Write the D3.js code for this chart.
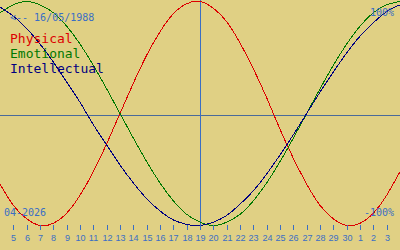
<!DOCTYPE html>
<html>
<head>
<meta charset="utf-8">
<title>Biorhythm</title>
<script src="https://d3js.org/d3.v7.min.js"></script>
<style>
  body { margin: 0; background: #e0d084; }
  svg { display: block; }
  text { font-family: "DejaVu Sans Mono", monospace; }
  text.day { font-family: "Liberation Sans", Arial, sans-serif; }
</style>
</head>
<body>
<svg id="chart" width="400" height="250"></svg>
<script>
// days shown: 4 Apr 2026 .. 4 May 2026, today = 19 Apr
var dayLabels = ["4","5","6","7","8","9","10","11","12","13","14","15","16","17","18","19",
                 "20","21","22","23","24","25","26","27","28","29","30","1","2","3","4"];

var physical = [-0.63,-0.82,-0.94,-1.00,-0.98,-0.89,-0.73,-0.52,-0.27,0.00,0.27,0.52,0.73,0.89,0.98,1.00,
                0.94,0.82,0.63,0.40,0.14,-0.14,-0.40,-0.63,-0.82,-0.94,-1.00,-0.98,-0.89,-0.73,-0.52];
var emotional = [0.90,0.97,1.00,0.97,0.90,0.78,0.62,0.43,0.22,0.00,-0.22,-0.43,-0.62,-0.78,-0.90,-0.97,
                 -1.00,-0.97,-0.90,-0.78,-0.62,-0.43,-0.22,0.00,0.22,0.43,0.62,0.78,0.90,0.97,1.00];
var intellectual = [0.95,0.87,0.76,0.62,0.46,0.28,0.10,-0.10,-0.28,-0.46,-0.62,-0.76,-0.87,-0.95,-0.99,-1.00,
                    -0.97,-0.91,-0.81,-0.69,-0.54,-0.37,-0.19,0.00,0.19,0.37,0.54,0.69,0.81,0.91,0.97];

var series = [
  {name: "Physical", values: physical, color: "#dd0000"},
  {name: "Emotional", values: emotional, color: "#007800"},
  {name: "Intellectual", values: intellectual, color: "#000080"}
];

var blue = "#3a6ec4";
var svg = d3.select("#chart");
var W = 400, H = 250;

var x = d3.scaleLinear().domain([0, dayLabels.length - 1]).range([0, W]);
var y = d3.scaleLinear().domain([-1, 1]).range([225.5, 1.5]);
var today = 15;

// zero line
svg.append("line")
  .attr("x1", 0).attr("x2", W)
  .attr("y1", Math.round(y(0)) + 1.5).attr("y2", Math.round(y(0)) + 1.5)
  .attr("stroke", "#4a6a9a").attr("stroke-width", 1);

// today line
svg.append("line")
  .attr("x1", x(today) + 0.5).attr("x2", x(today) + 0.5)
  .attr("y1", 0).attr("y2", 226)
  .attr("stroke", blue).attr("stroke-width", 1);

var line = d3.line()
  .x(function(d, i) { return x(i); })
  .y(function(d) { return y(d); })
  .curve(d3.curveNatural);

svg.selectAll("path.curve")
  .data(series)
  .join("path")
  .attr("class", "curve")
  .attr("d", function(s) { return line(s.values); })
  .attr("fill", "none")
  .attr("stroke", function(s) { return s.color; })
  .attr("stroke-width", 1)
  .attr("shape-rendering", "crispEdges");

// day ticks
var ticks = d3.range(1, dayLabels.length - 1);
svg.selectAll("line.tick")
  .data(ticks)
  .join("line")
  .attr("class", "tick")
  .attr("x1", function(d) { return Math.round(x(d)) + 0.5; })
  .attr("x2", function(d) { return Math.round(x(d)) + 0.5; })
  .attr("y1", 225).attr("y2", 230)
  .attr("stroke", blue);

svg.selectAll("text.day")
  .data(ticks)
  .join("text")
  .attr("class", "day")
  .attr("x", function(d) { return Math.round(x(d)) + 0.5; })
  .attr("y", 241)
  .attr("text-anchor", "middle")
  .attr("font-size", 9)
  .attr("fill", blue)
  .text(function(d) { return dayLabels[d]; });

// labels
svg.append("text").attr("x", 10).attr("y", 21).attr("font-size", 10).attr("fill", blue)
  .text("<-- 16/05/1988");
svg.append("text").attr("x", 394).attr("y", 16).attr("font-size", 10).attr("fill", blue)
  .attr("text-anchor", "end").text("100%");
svg.append("text").attr("x", 394).attr("y", 216).attr("font-size", 10).attr("fill", blue)
  .attr("text-anchor", "end").text("-100%");
svg.append("text").attr("x", 4).attr("y", 216).attr("font-size", 10).attr("fill", blue)
  .text("04-2026");

svg.selectAll("text.legend")
  .data(series)
  .join("text")
  .attr("class", "legend")
  .attr("x", 10)
  .attr("y", function(d, i) { return 43 + i * 15; })
  .attr("font-size", 13)
  .attr("fill", function(d) { return d.color; })
  .text(function(d) { return d.name; });
</script>
</body>
</html>
